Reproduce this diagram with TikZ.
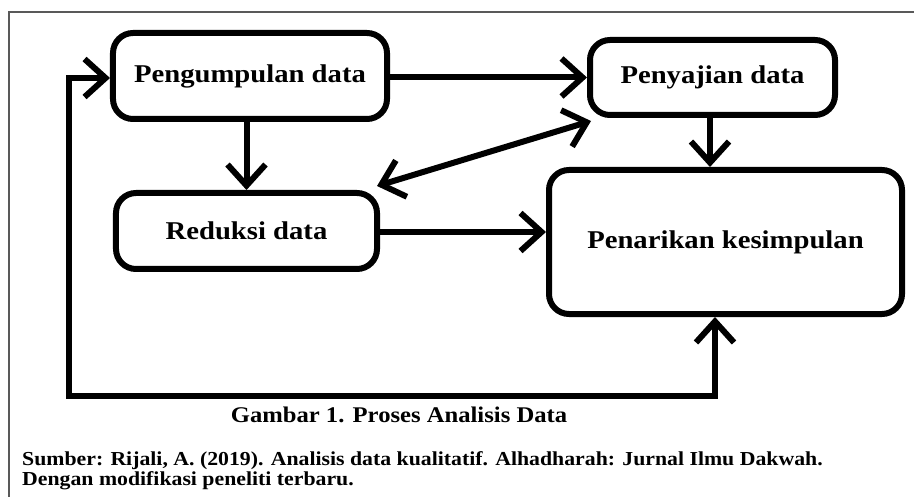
\documentclass[tikz,border=0pt]{standalone}
\usepackage{fontspec}
\setmainfont{Liberation Serif}[FakeStretch=1.1]
\newfontfamily\boxfont{Liberation Serif}[FakeStretch=1.12]
\usetikzlibrary{arrows.meta}
\tikzset{block/.style={draw,line width=6bp,rounded corners=20bp,inner sep=0pt,align=center,font=\boxfont\bfseries\fontsize{25.6bp}{30bp}\selectfont}}
\tikzset{flow/.style={line width=6bp,line cap=round}}
\tikzset{>={Straight Barb[length=21bp,width=38bp]}}

\begin{document}
\begin{tikzpicture}[x=1bp,y=-1bp]
    \useasboundingbox (0,0) rectangle (914,497);
    % frame of the figure
    \draw [line width=1.5bp,color=black!65] (914,12) -| (9,497);

    \node (PD) [block,minimum width=274bp,minimum height=86bp] at (250,76) {Pengumpulan data};
    \node (RD) [block,minimum width=261bp,minimum height=76bp] at (246.5,231) {Reduksi data};
    \node (SD) [block,minimum width=245bp,minimum height=75bp] at (712.5,77.5) {Penyajian data};
    \node (PK) [block,minimum width=353bp,minimum height=144bp] at (725.5,242) {Penarikan kesimpulan};

    \draw [flow,->] (PD.east |- SD.west) -- (SD.west);
    \draw [flow,->] (RD.north |- PD.south) -- (RD.north);
    \draw [flow,->] ([xshift=-2.5bp]SD.south) -- ([xshift=-2.5bp]SD.south |- PK.north);
    \draw [flow,->] ([yshift=-1bp]RD.east) -- ([yshift=-1bp]RD.east -| PK.west);
    \draw [flow,<->] ([shift={(-3bp,4bp)}]RD.north east) -- ([shift={(4bp,-3bp)}]SD.south west);

    % loop back from the conclusion
    \coordinate (L) at (69,396);
    \draw [flow,<->] ([yshift=-2bp]PD.west) -| (L) -| ([xshift=-10.5bp]PK.south);

    \node (Cap) [font=\bfseries\fontsize{22.4bp}{27bp}\selectfont] at (399,415) {Gambar 1. Proses Analisis Data};
    \node (Src) [anchor=north west,inner sep=0pt,align=left,font=\bfseries\fontsize{19.8bp}{20.5bp}\selectfont] at (22,451) {Sumber: Rijali, A. (2019). Analisis data kualitatif. Alhadharah: Jurnal Ilmu Dakwah.\\Dengan modifikasi peneliti terbaru.};
\end{tikzpicture}
\end{document}
